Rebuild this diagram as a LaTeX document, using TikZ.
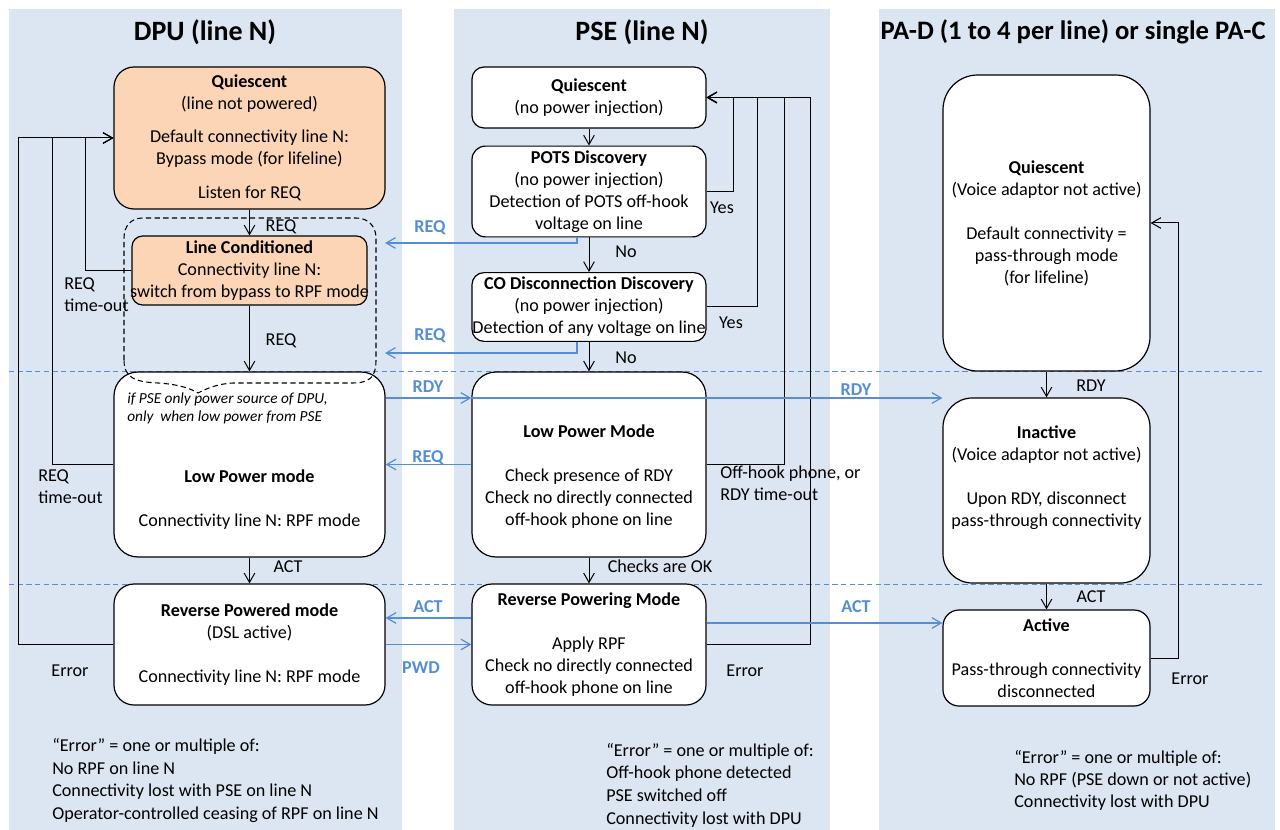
\documentclass[tikz,border=0pt]{standalone}
\usepackage{fontspec}
\setmainfont{Carlito}
\usetikzlibrary{arrows.meta}
\definecolor{spalte}{RGB}{220,230,242}
\definecolor{orangehell}{RGB}{251,213,181}
\definecolor{blau}{RGB}{85,142,213}

\begin{document}
\begin{tikzpicture}
		[
		x=0.75pt, y=-0.75pt, font=\fontsize{13.6}{16.5}\selectfont, >={Straight Barb[length=7pt,width=8pt]},
		%Voreinstellung für Zustände und Pfeile
		zustand/.style={draw, line width=0.9pt, fill=white, align=center, inner xsep=0pt},
		meldung/.style={blau, line width=0.9pt, ->},
		mtext/.style={blau, font=\fontsize{13.6}{16.5}\selectfont\bfseries},
		titel/.style={font=\fontsize{21}{24}\selectfont\bfseries},
		notiz/.style={align=left, inner sep=0pt}
		]
		
		%Rahmen
		\useasboundingbox (0,0) rectangle (1280,830);
		
		%Spalten im Hintergrund
		\fill[spalte] (9,9) rectangle (402,830);
		\fill[spalte] (454,9) rectangle (830,830);
		\fill[spalte] (879,9) rectangle (1275,830);
		
		%Überschriften
		\node[titel] (td) at (205,32) {DPU (line N)};
		\node[titel] (tp) at (642,32) {PSE (line N)};
		\node[titel, anchor=west, font=\fontsize{20}{24}\selectfont\bfseries] (ta) at (876,32) {PA-D (1 to 4 per line) or single PA-C};
		
		%Trennlinien
		\draw[blau, dash pattern=on 4pt off 2.5pt] (9,371) -- (1265,371);
		\draw[blau, dash pattern=on 4pt off 2.5pt] (9,584) -- (1265,584);
		
		%Zustände DPU
		\node[zustand, fill=orangehell, rounded corners=15pt, minimum width=203.25pt, minimum height=106.5pt] (dq) at (249.5,138) {\textbf{Quiescent}\\(line not powered)\\[8.25pt]Default connectivity line N:\\Bypass mode (for lifeline)\\[9pt]Listen for REQ};
		\node[zustand, fill=orangehell, rounded corners=8pt, minimum width=176.25pt, minimum height=51.75pt] (dlc) at (249.5,270.5) {\textbf{Line Conditioned}\\Connectivity line N:\\\hbox to 0pt{\hss switch from bypass to RPF mode\hss}};
		\node[zustand, rounded corners=18pt, minimum width=203.25pt, minimum height=138.75pt] (dlp) at (249.5,464.5) {\strut\\[33.75pt]\textbf{Low Power mode}\\[16.5pt]Connectivity line N: RPF mode};
		\node[zustand, rounded corners=15pt, minimum width=203.25pt, minimum height=90.75pt] (drp) at (249.5,644.5) {\textbf{Reverse Powered mode}\\(DSL active)\\[16.5pt]Connectivity line N: RPF mode};
		
		%Hinweis im Low Power mode
		\node[notiz, anchor=west, font=\fontsize{11.5}{13.5}\selectfont\itshape] (hinweis) at (127,408) {if PSE only power source of DPU,\\only\ \ when low power from PSE};
		
		%gestrichelte Gruppe
		\draw[line width=0.8pt, dash pattern=on 4pt off 2.5pt] (124,360) -- (124,238) .. controls (124,226) and (131,218) .. (143,218) -- (356,218) .. controls (368,218) and (376,226) .. (376,238) -- (376,360) .. controls (376,377) and (370,383) .. (352,383) -- (233,383) .. controls (216,384) and (206,389) .. (198,393) .. controls (190,388) and (176,384) .. (158,383) .. controls (134,382) and (124,377) .. (124,360);
		
		%Zustände PSE
		\node[zustand, rounded corners=9pt, minimum width=175.5pt, minimum height=45.75pt] (pq) at (589,97.5) {\textbf{Quiescent}\\(no power injection)};
		\node[zustand, rounded corners=10pt, minimum width=175.5pt, minimum height=65.25pt] (ppots) at (589,191.5) {\textbf{POTS Discovery}\\(no power injection)\\Detection of POTS off-hook\\voltage on line};
		\node[zustand, rounded corners=9pt, minimum width=175.5pt, minimum height=49.5pt] (pco) at (589,307) {\textbf{CO Disconnection Discovery}\\(no power injection)\\\hbox to 0pt{\hss Detection of any voltage on line\hss}};
		\node[zustand, rounded corners=18pt, minimum width=175.5pt, minimum height=138.75pt] (plp) at (589,464.5) {\strut\\\textbf{Low Power Mode}\\[16.5pt]Check presence of RDY\\Check no directly connected\\off-hook phone on line};
		\node[zustand, rounded corners=15pt, minimum width=175.5pt, minimum height=90.75pt] (prp) at (589,644.5) {\textbf{Reverse Powering Mode}\\[16.5pt]Apply RPF\\Check no directly connected\\off-hook phone on line};
		
		%Zustände PA-D
		\node[zustand, rounded corners=26pt, minimum width=155.25pt, minimum height=222pt] (aq) at (1046.5,223) {\textbf{Quiescent}\\(Voice adaptor not active)\\[16.5pt]Default connectivity =\\pass-through mode\\(for lifeline)};
		\node[zustand, rounded corners=22pt, minimum width=155.25pt, minimum height=138.75pt] (ain) at (1046.5,490.5) {\textbf{Inactive}\\(Voice adaptor not active)\\[16.5pt]Upon RDY, disconnect\\pass-through connectivity\\\strut};
		\node[zustand, rounded corners=12pt, minimum width=155.25pt, minimum height=72pt] (aac) at (1046.5,658) {\textbf{Active}\\[16.5pt]Pass-through connectivity\\disconnected};
		
		%Übergänge DPU
		\draw[->, line width=0.75pt] (dq.south) -- (dlc.north);
		\draw[->, line width=0.75pt] (dlc.south) -- (dlp.north);
		\draw[->, line width=0.75pt] (dlp.south) -- (drp.north);
		\draw[->, line width=0.75pt] (dlc.west) -- ++(-46,0) |- (dq.west);
		\draw[->, line width=0.75pt] (dlp.west) -- ++(-61,0) |- (dq.west);
		\draw[->, line width=0.75pt] (drp.west) -- ++(-95,0) |- (dq.west);
		
		%Übergänge PSE
		\draw[->, line width=0.75pt] (pq.south) -- (ppots.north);
		\draw[->, line width=0.75pt] (ppots.south) -- (pco.north);
		\draw[->, line width=0.75pt] (pco.south) -- (plp.north);
		\draw[->, line width=0.75pt] (plp.south) -- (prp.north);
		\draw[->, line width=0.75pt] (ppots.east) -- ++(27,0) |- (pq.east);
		\draw[->, line width=0.75pt] (pco.east) -- ++(51,0) |- (pq.east);
		\draw[->, line width=0.75pt] (plp.east) -- ++(78,0) |- (pq.east);
		\draw[->, line width=0.75pt] (prp.east) -- ++(104,0) |- (pq.east);
		
		%Übergänge PA-D
		\draw[->, line width=0.75pt] (aq.south) -- (ain.north);
		\draw[->, line width=0.75pt] (ain.south) -- (aac.north);
		\draw[->, line width=0.75pt] (aac.east) -- ++(28,0) |- (aq.east);
		
		%Meldungen
		\coordinate (g1) at (385,243);
		\coordinate (g2) at (385,353);
		\draw[meldung] ([xshift=-9pt]ppots.south) |- (g1);
		\draw[meldung] ([xshift=-9pt]pco.south) |- (g2);
		\draw[meldung] (dlp.east |- 0,398) -- (plp.west |- 0,398);
		\draw[meldung] (plp.west |- 0,398) -- (ain.west |- 0,398);
		\draw[meldung] (plp.west) -- (dlp.east);
		\draw[meldung] (prp.west |- 0,618) -- (drp.east |- 0,618);
		\draw[meldung] (drp.east) -- (prp.west);
		\draw[meldung] (prp.east |- 0,623) -- (aac.west |- 0,623);
		
		%Beschriftung Meldungen
		\node[mtext] (m1) at (430,228) {REQ};
		\node[mtext] (m2) at (430,336) {REQ};
		\node[mtext] (m3) at (428,387) {RDY};
		\node[mtext] (m4) at (428,458) {REQ};
		\node[mtext] (m5) at (428,607) {ACT};
		\node[mtext] (m6) at (421,668) {PWD};
		\node[mtext] (m7) at (856,390) {RDY};
		\node[mtext] (m8) at (856,607) {ACT};
		
		%Beschriftung Übergänge
		\node (l1) at (281,227) {REQ};
		\node (l2) at (281,341) {REQ};
		\node (l3) at (288,567) {ACT};
		\node[notiz, anchor=west] (l4) at (64,295) {REQ\\time-out};
		\node[notiz, anchor=west] (l5) at (38,487) {REQ\\time-out};
		\node (l6) at (70,671) {Error};
		\node (l7) at (626,252) {No};
		\node (l8) at (626,358) {No};
		\node (l9) at (722,208) {Yes};
		\node (l10) at (731,323) {Yes};
		\node[notiz, anchor=west] (l11) at (720,483) {Off-hook phone, or\\RDY time-out};
		\node (l12) at (660,566) {Checks are OK};
		\node (l13) at (745,671) {Error};
		\node (l14) at (1091,386) {RDY};
		\node (l15) at (1091,597) {ACT};
		\node (l16) at (1190,679) {Error};
		
		%Fehlerlisten
		\node[notiz, anchor=west, font=\fontsize{13.6}{17}\selectfont] (fd) at (52,780.5) {“Error” = one or multiple of:\\No RPF on line N\\Connectivity lost with PSE on line N\\Operator-controlled ceasing of RPF on line N};
		\node[notiz, anchor=west, font=\fontsize{13.6}{17}\selectfont] (fp) at (606,785) {“Error” = one or multiple of:\\Off-hook phone detected\\PSE switched off\\Connectivity lost with DPU};
		\node[notiz, anchor=west] (fa) at (1014,780) {“Error” = one or multiple of:\\No RPF (PSE down or not active)\\Connectivity lost with DPU};
	\end{tikzpicture}
\end{document}
